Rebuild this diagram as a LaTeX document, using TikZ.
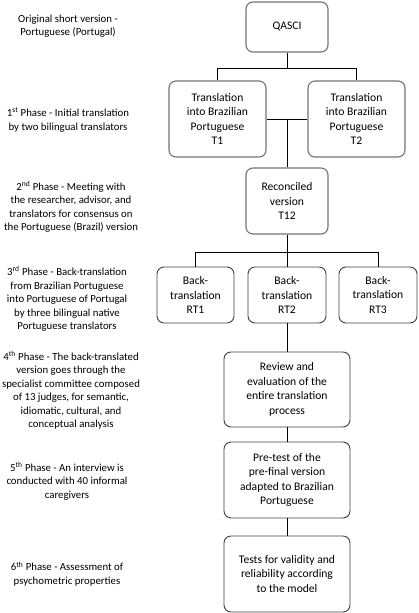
\documentclass[tikz,border=0pt]{standalone}
\usepackage{fontspec}
\setmainfont{Carlito}
\usetikzlibrary{positioning}
\tikzset{%
  stage/.style={draw=black!75, line width=0.9pt, rounded corners=7pt, align=center,
    inner sep=2pt, font=\fontsize{11.6}{14.5}\selectfont}, % boxes on the right
  stagegray/.style={stage, draw=black!55, line width=1.1pt},
  phase/.style={align=center, font=\fontsize{10.8}{13.5}\selectfont}, % texts on the left
  link/.style={draw, line width=0.8pt}
}
\begin{document}
\begin{tikzpicture}[x=1pt, y=-1pt]
    \useasboundingbox (0,0) rectangle (418,613);

    % boxes
    \node[stagegray, minimum width=82pt, minimum height=50pt] (qasci) at (287,27) {QASCI};
    \node[stagegray, minimum width=97pt, minimum height=76pt] (t1) at (217.5,119) {Translation\\into Brazilian\\Portuguese\\T1};
    \node[stagegray, minimum width=97pt, minimum height=76pt] (t2) at (356.5,119) {Translation\\into Brazilian\\Portuguese\\T2};
    \node[stagegray, minimum width=82pt, minimum height=66pt] (t12) at (287,201) {Reconciled\\version\\T12};
    \node[stage, minimum width=77pt, minimum height=56pt] (rt1) at (195.5,295) {Back-\\translation\\RT1};
    \node[stage, minimum width=78pt, minimum height=56pt] (rt2) at (287,295) {Back-\\translation\\RT2};
    \node[stage, minimum width=78pt, minimum height=56pt] (rt3) at (378,295) {Back-\\translation\\RT3};
    \node[stage, minimum width=126pt, minimum height=75pt] (review) at (287,389.5) {Review and\\evaluation of the\\entire translation\\process};
    \node[stage, minimum width=126pt, minimum height=76pt] (pretest) at (287,480) {Pre-test of the\\pre-final version\\adapted to Brazilian\\Portuguese};
    \node[stage, minimum width=126pt, minimum height=76pt] (tests) at (287,574) {Tests for validity and\\reliability according\\to the model};

    % phases
    \node[phase] (p0) at (68,26) {Original short version -\\Portuguese (Portugal)};
    \node[phase] (p1) at (68,120) {1\textsuperscript{st} Phase - Initial translation\\by two bilingual translators};
    \node[phase] (p2) at (71,207) {2\textsuperscript{nd} Phase - Meeting with\\the researcher, advisor, and\\translators for consensus on\\the Portuguese (Brazil) version};
    \node[phase] (p3) at (67,299) {3\textsuperscript{rd} Phase - Back-translation\\from Brazilian Portuguese\\into Portuguese of Portugal\\by three bilingual native\\Portuguese translators};
    \node[phase] (p4) at (71,390.5) {4\textsuperscript{th} Phase - The back-translated\\version goes through the\\specialist committee composed\\of 13 judges, for semantic,\\idiomatic, cultural, and\\conceptual analysis};
    \node[phase] (p5) at (67,481) {5\textsuperscript{th} Phase - An interview is\\conducted with 40 informal\\caregivers};
    \node[phase] (p6) at (67,574) {6\textsuperscript{th} Phase - Assessment of\\psychometric properties};

    % connectors
    \coordinate (split1) at (287,68);
    \coordinate (split2) at (287,252);
    \draw[link] (qasci.south) -- (split1);
    \draw[link] (t1.north) -- (t1.north |- split1) -- (t2.north |- split1) -- (t2.north);
    \draw[link] (t1) -- (t2);
    \draw[link] (t12.north) -- (t12.north |- t1.east);
    \draw[link] (t12.south) -- (split2);
    \draw[link] (rt1.north) -- (rt1.north |- split2) -- (rt3.north |- split2) -- (rt3.north);
    \draw[link] (split2) -- (rt2.north);
    \draw[link] (rt2.south) -- (review.north);
    \draw[link] (review.south) -- (pretest.north);
    \draw[link] (pretest.south) -- (tests.north);
\end{tikzpicture}
\end{document}
